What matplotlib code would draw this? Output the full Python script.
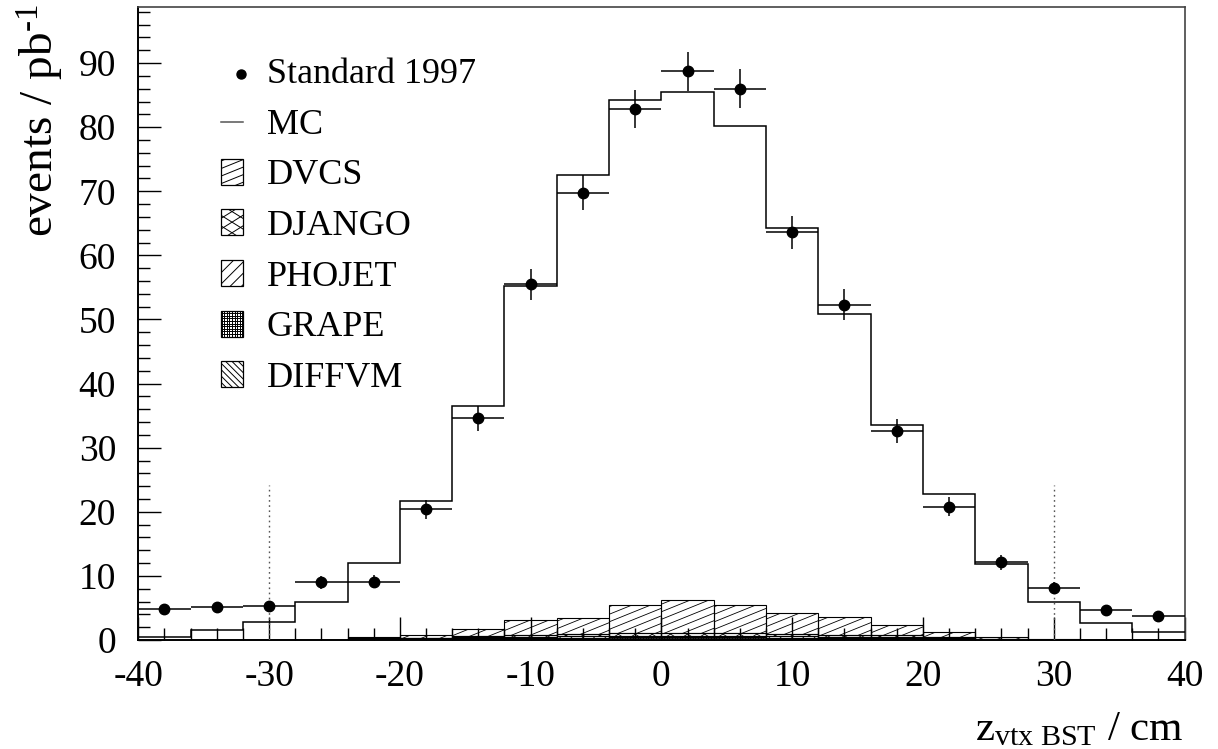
import numpy as np
import matplotlib
matplotlib.use('Agg')
import matplotlib.pyplot as plt
from matplotlib.collections import LineCollection
from matplotlib.patches import Rectangle
from matplotlib.lines import Line2D
import matplotlib.transforms as mtransforms

# ---------------- data ----------------
bin_centers = [-38, -34, -30, -26, -22, -18, -14, -10, -6, -2,
               2, 6, 10, 14, 18, 22, 26, 30, 34, 38]
bin_width = 4
data_values = [4.9, 5.1, 5.3, 9.0, 9.1, 20.4, 34.6, 55.5, 69.8, 82.8,
               88.7, 86.0, 63.6, 52.3, 32.6, 20.8, 12.1, 8.1, 4.7, 3.7]
data_errors = [0.73, 0.75, 0.76, 1.0, 1.0, 1.5, 1.95, 2.4, 2.75, 3.0,
               3.1, 3.05, 2.6, 2.4, 1.9, 1.5, 1.15, 0.95, 0.72, 0.65]
mc_values = [0.4, 1.5, 2.8, 6.0, 12.0, 21.7, 36.5, 55.3, 72.5, 84.2,
             85.5, 80.2, 64.2, 50.9, 33.6, 22.7, 11.8, 6.0, 2.7, 1.2]
diffvm = [0, 0, 0, 0, 0.05, 0.05, 0.1, 0.1, 0.1, 0.15,
          0.15, 0.15, 0.1, 0.1, 0.1, 0.05, 0, 0, 0, 0]
grape = [0, 0, 0, 0, 0.1, 0.1, 0.15, 0.2, 0.2, 0.25,
         0.25, 0.25, 0.2, 0.2, 0.15, 0.1, 0.05, 0.05, 0, 0]
phojet = [0, 0, 0, 0, 0.1, 0.1, 0.15, 0.2, 0.25, 0.3,
          0.3, 0.3, 0.25, 0.2, 0.2, 0.15, 0.05, 0, 0, 0]
django = [0, 0, 0, 0, 0.1, 0.1, 0.15, 0.3, 0.4, 0.4,
          0.45, 0.45, 0.4, 0.35, 0.3, 0.2, 0.1, 0, 0, 0]
dvcs = [0, 0, 0, 0, 0.1, 0.43, 1.15, 2.3, 2.55, 4.4,
        5.1, 4.25, 3.2, 2.75, 1.65, 0.8, 0.3, 0.15, 0, 0]
cut_positions = [-30, 30]
cut_height = 24.2
legend_labels = ['Standard 1997', 'MC', 'DVCS', 'DJANGO', 'PHOJET', 'GRAPE', 'DIFFVM']
x_ticks = [-40, -30, -20, -10, 0, 10, 20, 30, 40]
y_ticks = [0, 10, 20, 30, 40, 50, 60, 70, 80, 90]

# ---------------- style ----------------
plt.rcParams['font.family'] = ['Liberation Serif', 'DejaVu Serif']
plt.rcParams['mathtext.fontset'] = 'custom'
plt.rcParams['mathtext.rm'] = 'Liberation Serif'
plt.rcParams['mathtext.it'] = 'Liberation Serif:italic'
plt.rcParams['axes.unicode_minus'] = False

W, H = 1218, 749
fig = plt.figure(figsize=(W / 100, H / 100), dpi=100)
ax_left, ax_right, ax_bottom, ax_top = 138.3, 1184.5, 640.0, 7.3
ax = fig.add_axes([ax_left / W, (H - ax_bottom) / H,
                   (ax_right - ax_left) / W, (ax_bottom - ax_top) / H])
ax.set_xlim(-40, 40)
ax.set_ylim(0, 98.7)


def hatch(patch, angle, spacing, lw=0.7, color='black'):
    """Draw hatch lines (pixel space) clipped to a rectangle patch."""
    bb = patch.get_window_extent()
    if bb.width < 0.5 or bb.height < 0.5:
        return
    cx, cy = (bb.x0 + bb.x1) / 2, (bb.y0 + bb.y1) / 2
    r = 0.5 * np.hypot(bb.width, bb.height) + spacing
    th = np.deg2rad(angle)
    d = np.array([np.cos(th), np.sin(th)])
    n = np.array([-np.sin(th), np.cos(th)])
    ks = np.arange(-np.ceil(r / spacing), np.ceil(r / spacing) + 1)
    segs = []
    for k in ks:
        p = np.array([cx, cy]) + k * spacing * n
        segs.append([p - r * d, p + r * d])
    lc = LineCollection(segs, colors=color, linewidths=lw,
                        transform=mtransforms.IdentityTransform(), zorder=3)
    ax.add_collection(lc, autolim=False)
    lc.set_clip_path(patch)


hatch_styles = {
    'DVCS': [(22, 7.0)],
    'DJANGO': [(32, 9.0), (-32, 9.0)],
    'PHOJET': [(45, 8.0)],
    'GRAPE': [(0, 2.6), (90, 2.6)],
    'DIFFVM': [(-45, 4.5)],
}

# stacked backgrounds
stack = [('DIFFVM', diffvm), ('GRAPE', grape), ('PHOJET', phojet),
         ('DJANGO', django), ('DVCS', dvcs)]
bottom = np.zeros(len(bin_centers))
for name, vals in stack:
    bars = ax.bar(bin_centers, vals, width=bin_width, bottom=bottom,
                  facecolor='none', edgecolor='black', linewidth=0.8, zorder=2)
    for p in bars.patches:
        for ang, sp in hatch_styles[name]:
            hatch(p, ang, sp, lw=0.6)
    bottom = bottom + np.array(vals)

# MC histogram
edges = np.arange(-40, 40 + bin_width, bin_width)
ax.stairs(mc_values, edges, color='black', linewidth=1.1, baseline=None, zorder=4)

# data points
ax.errorbar(bin_centers, data_values, xerr=bin_width / 2, yerr=data_errors,
            fmt='o', color='black', ms=7.5, elinewidth=1.1, capsize=0, zorder=5)

# cut lines
ax.vlines(cut_positions, 0, cut_height, colors='#555555', linestyles=(0, (1.2, 2.5)),
          linewidth=1.0, zorder=4)

# axes styling
ax.set_xticks(x_ticks)
ax.set_yticks(y_ticks)
ax.set_xticks(np.arange(-40, 41, 2), minor=True)
ax.set_yticks(np.arange(0, 99, 2), minor=True)
ax.tick_params(which='both', direction='in', top=False, right=False,
               width=1.0, colors='black')
ax.tick_params(which='major', length=16.5, labelsize=27)
ax.tick_params(axis='x', which='major', pad=14)
ax.tick_params(axis='y', which='major', pad=16)
ax.tick_params(which='minor', length=8.5)
for s in ['left', 'bottom']:
    ax.spines[s].set_linewidth(1.4)
for s in ['top', 'right']:
    ax.spines[s].set_linewidth(1.2)
    ax.spines[s].set_color('#444444')

# axis titles
fig.text(40 / W, 1 - 4 / H, r'events / pb$^{\text{-1}}$', rotation=90, ha='center',
         va='top', fontsize=34)
fig.text(1184 / W, 9 / H, r'z$_{\mathrm{vtx\ BST}}$ / cm', ha='right', va='baseline',
         fontsize=31)

# manual legend
def axx(p):
    return (p - ax_left) / (ax_right - ax_left)


def axy(p):
    return (ax_bottom - p) / (ax_bottom - ax_top)


baselines = [83, 133.5, 184.5, 235, 286, 336.5, 387]
box_l, box_r, box_h = 220.7, 243.3, 25.7
text_x = 266.7
leg_fs = 26
for i, lab in enumerate(legend_labels):
    b = baselines[i]
    ax.text(axx(text_x), axy(b), lab, transform=ax.transAxes, fontsize=leg_fs,
            ha='left', va='baseline')
    if i == 0:
        ax.add_line(Line2D([axx(241)], [axy(b - 9.5)], marker='o', ms=6.5,
                           color='black', transform=ax.transAxes))
    elif i == 1:
        ax.add_line(Line2D([axx(box_l), axx(box_r)], [axy(b - 12), axy(b - 12)],
                           color='#555555', lw=1.1, transform=ax.transAxes))
    else:
        rect = Rectangle((axx(box_l), axy(b)), axx(box_r) - axx(box_l),
                         axy(b - box_h) - axy(b), transform=ax.transAxes,
                         facecolor='none', edgecolor='black', lw=0.9, zorder=3)
        ax.add_patch(rect)
        for ang, sp in hatch_styles[lab]:
            hatch(rect, ang, sp, lw=0.7)

fig.savefig('out.png', dpi=100)
